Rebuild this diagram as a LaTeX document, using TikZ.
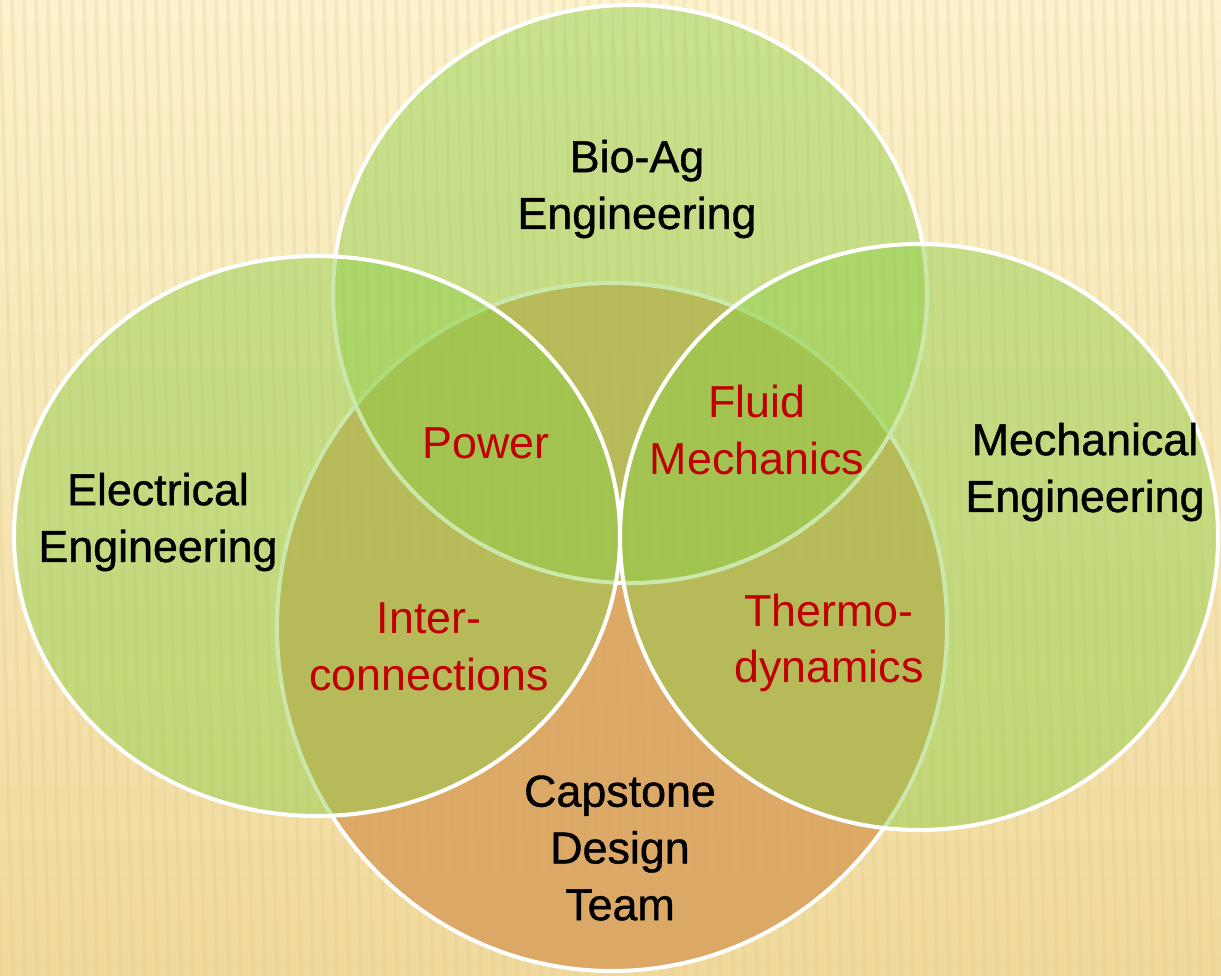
\documentclass[tikz,border=0pt]{standalone}
\usepackage{fontspec}
\setmainfont{Liberation Sans}
\definecolor{bgtop}{HTML}{FCF2CD}
\definecolor{bgbot}{HTML}{F0D99C}
\definecolor{stripe}{HTML}{E6CB87}
\definecolor{leaf}{RGB}{142,207,73}
\definecolor{clay}{RGB}{218,162,94}
\definecolor{overlap}{HTML}{C00000}
\begin{document}
\begin{tikzpicture}[x=0.02cm,y=-0.02cm,
    set/.style={draw=white,line width=2.3pt},
    green/.style={set,fill=leaf,fill opacity=0.47},
    field/.style={align=center,inner sep=0pt,
      font=\fontsize{25.5}{32.3}\selectfont\addfontfeatures{FakeBold=0.9}},
    share/.style={align=center,inner sep=0pt,text=overlap,
      font=\fontsize{25.5}{32.3}\selectfont}]
  \useasboundingbox (0,0) rectangle (1221,975);
  \clip (0,0) rectangle (1221,975);
  % background
  \shade[top color=bgtop,bottom color=bgbot] (0,0) rectangle (1221,975);
  \foreach \x in {-60,-48,...,1250}
    \draw[stripe,line width=2pt,opacity=0.25] (\x,0) -- (\x+25,975);
  % sets
  \coordinate (capstone) at (612,627);
  \coordinate (bioag) at (630,294);
  \coordinate (electrical) at (317,536);
  \coordinate (mechanical) at (919,537);
  \filldraw[set,fill=clay,fill opacity=0.88] (capstone) ellipse [x radius=335,y radius=344];
  \filldraw[green] (bioag) ellipse [x radius=297,y radius=289];
  \filldraw[green] (electrical) ellipse [x radius=303,y radius=280];
  \filldraw[green] (mechanical) ellipse [x radius=299,y radius=293];
  % labels
  \node[field] (bioagtext) at (637,189) {Bio-Ag\\Engineering};
  \node[field] (electext) at (158,522) {Electrical\\Engineering};
  \node[field] (mechtext) at (1085,472) {Mechanical\\Engineering};
  \node[field] (capstext) at (620,848) {Capstone\\Design\\Team};
  \node[share] (power) at (486,443) {Power};
  \node[share] (fluid) at (757,430) {Fluid\\Mechanics};
  \node[share] (inter) at (429,647) {Inter-\\connections};
  \node[share] (thermo) at (829,643) {Thermo-\\dynamics};
\end{tikzpicture}
\end{document}
